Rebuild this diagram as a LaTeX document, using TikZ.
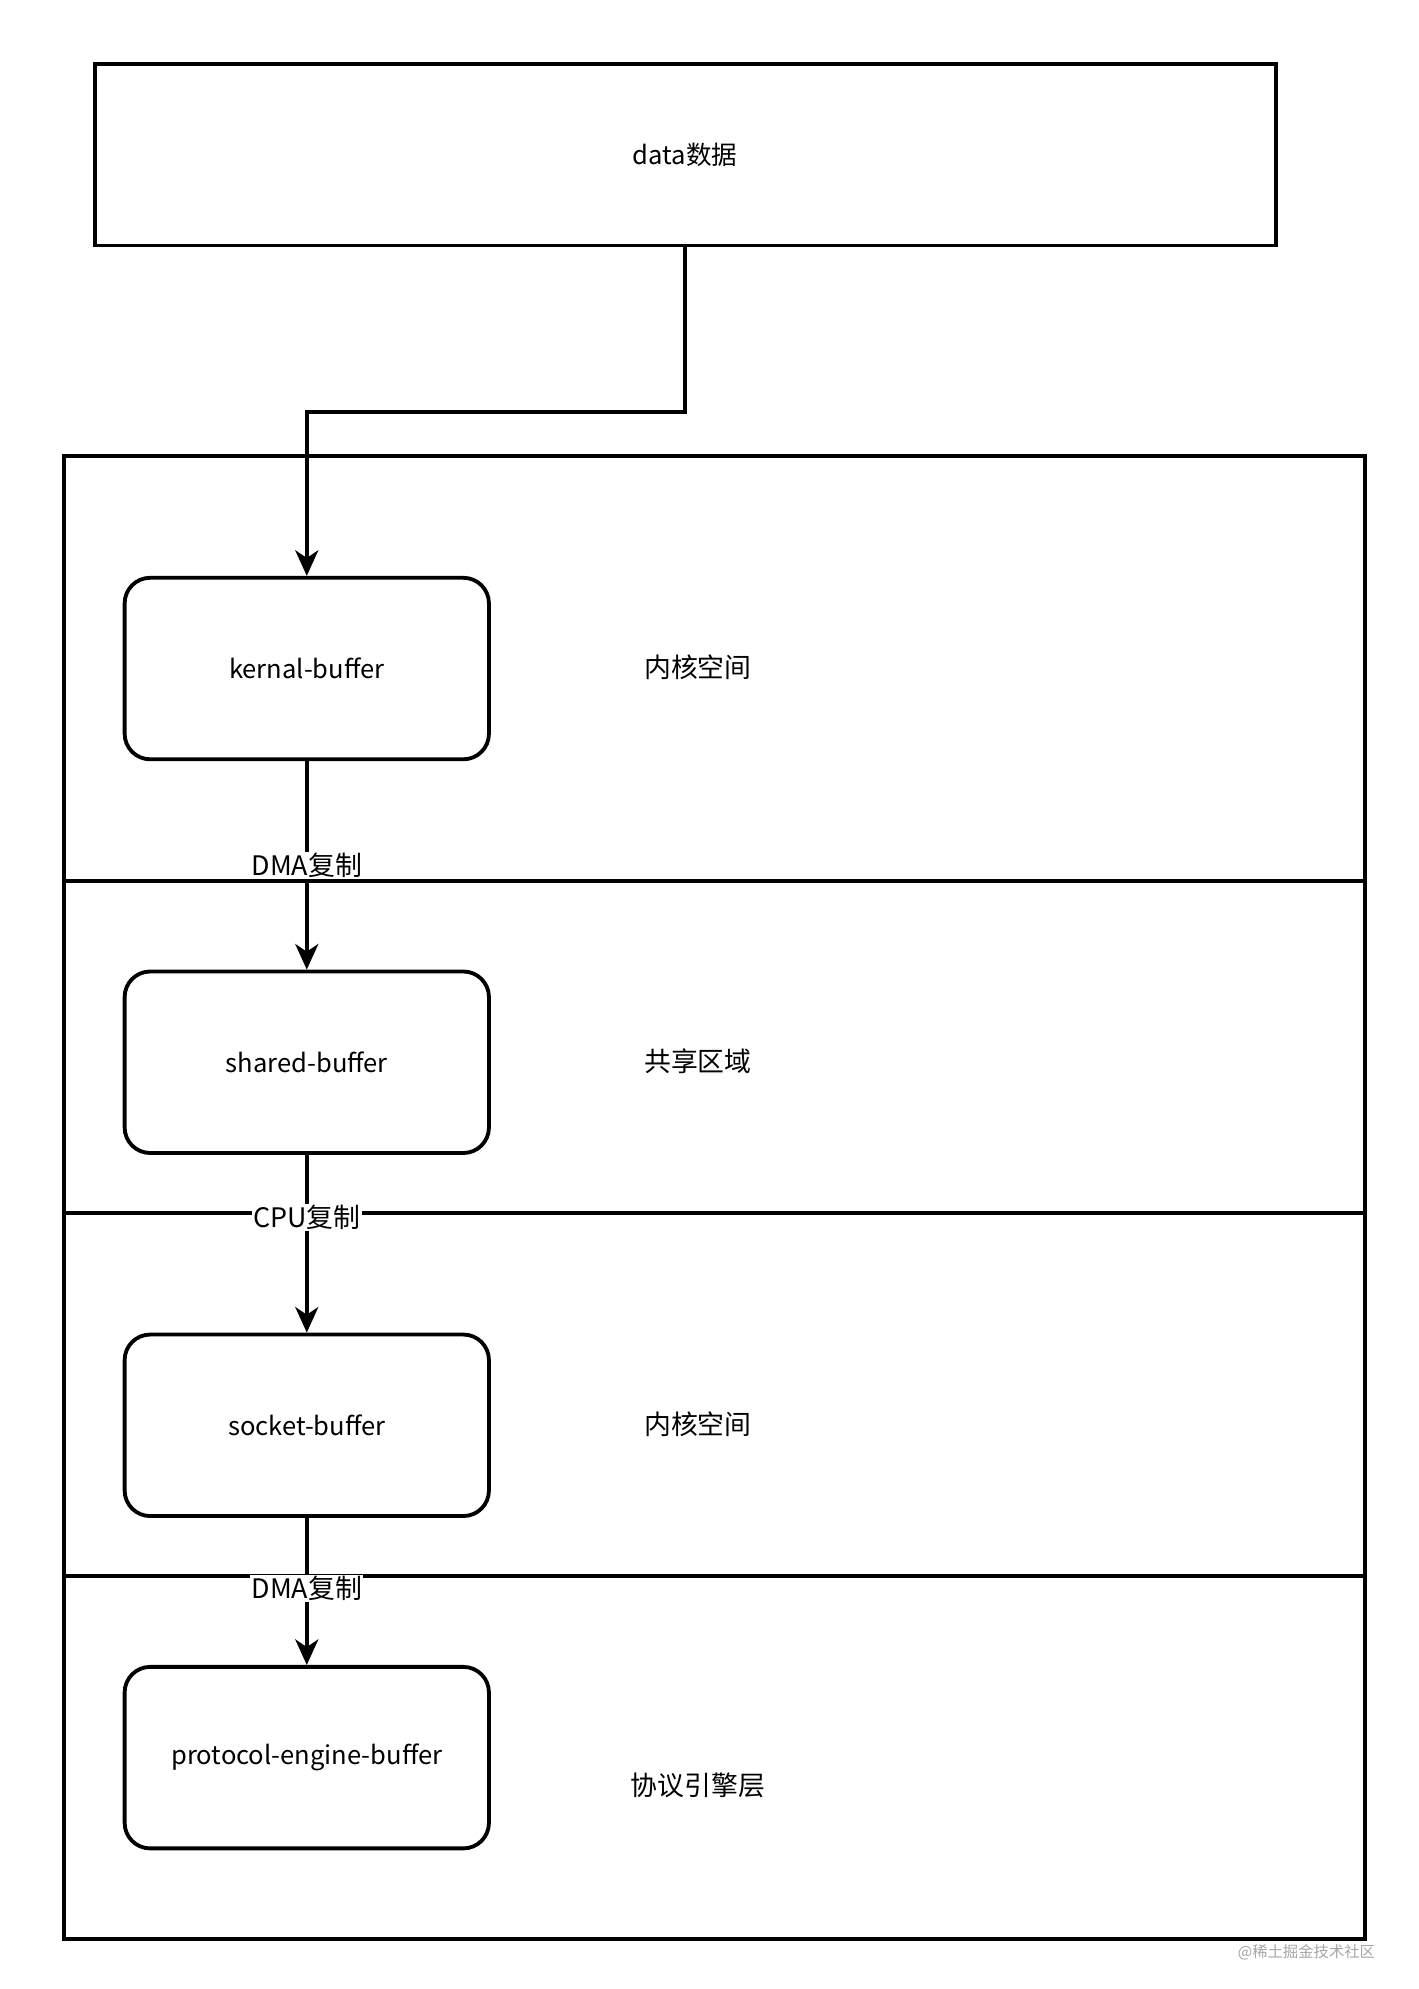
\documentclass[tikz,border=0pt]{standalone}
\usepackage{fontspec}
\setmainfont{Noto Sans CJK SC}
\usetikzlibrary{arrows.meta}
\begin{document}
\begin{tikzpicture}[x=1pt,y=-1pt,line width=3pt,
  buf/.style={draw,rounded corners=20pt,minimum width=285pt,minimum height=142pt,font=\fontsize{20}{24}\selectfont,inner sep=0pt},
  lab/.style={font=\fontsize{21}{25}\selectfont},
  elab/.style={fill=white,inner sep=1pt,font=\fontsize{21}{25}\selectfont},
  arr/.style={-{Stealth[length=20pt,width=18pt,inset=6pt]},line width=3pt}]
\useasboundingbox (0,0) rectangle (1110,1556);
\node[draw,minimum width=924pt,minimum height=142pt,font=\fontsize{20}{24}\selectfont] (data) at (536,121) {data数据};
\draw (50,357) rectangle (1068,1517);
\coordinate (l1a) at (50,689); \coordinate (l1b) at (1068,689);
\coordinate (l2a) at (50,949); \coordinate (l2b) at (1068,949);
\coordinate (l3a) at (50,1233); \coordinate (l3b) at (1068,1233);
\draw (l1a)--(l1b); \draw (l2a)--(l2b); \draw (l3a)--(l3b);
\node[buf] (k) at (240,523) {kernal-buffer};
\node[buf] (s) at (240,831) {shared-buffer};
\node[buf] (so) at (240,1115) {socket-buffer};
\node[buf] (p) at (240,1375) {protocol-engine-buffer};
\node[lab] (t1) at (546,522) {内核空间};
\node[lab] (t2) at (546,830) {共享区域};
\node[lab] (t3) at (546,1114) {内核空间};
\node[lab] (t4) at (546,1397) {协议引擎层};
\draw[arr] (data.south) |- (240,322) -- (k.north);
\draw[arr] (k) -- node[elab,pos=0.5]{DMA复制} (s);
\draw[arr] (s) -- node[elab,pos=0.35]{CPU复制} (so);
\draw[arr] (so) -- node[elab,pos=0.48]{DMA复制} (p);
\node[font=\fontsize{12}{14}\selectfont,text=gray!70] (wm) at (1022,1527) {@稀土掘金技术社区};
\end{tikzpicture}
\end{document}
